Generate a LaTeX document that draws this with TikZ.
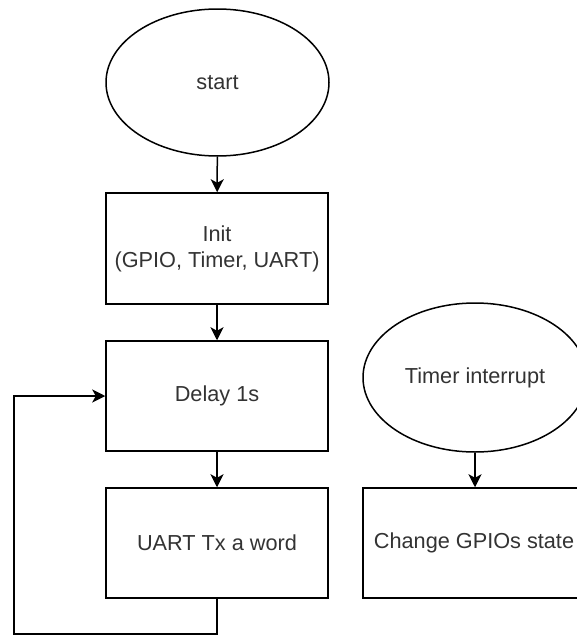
\documentclass[tikz,border=0pt]{standalone}
\usepackage{fontspec}
\setmainfont{Liberation Sans}
\usetikzlibrary{shapes.geometric,arrows.meta}
\definecolor{txt}{RGB}{51,51,51}
\tikzset{
  base/.style={draw=black, line width=1.5pt, text=txt, font=\fontsize{21.7}{26}\selectfont, inner sep=0pt, align=center},
  oval/.style={base, ellipse, minimum width=223pt, minimum height=147pt},
  box/.style={base, rectangle, minimum width=222pt, minimum height=110pt},
  link/.style={line width=1.5pt, -{Stealth[length=13pt,width=13pt,inset=3.5pt]}},
  wire/.style={line width=1.5pt}
}
\begin{document}
\begin{tikzpicture}[x=1pt,y=-1pt]
\useasboundingbox (0,0) rectangle (577,637);
\clip (0,0) rectangle (577,637);
\node[oval] (start) at (217.5,82.5) {start};
\node[box, minimum height=111pt] (init) at (217,248.5) {Init\\(GPIO, Timer, UART)};
\node[box] (delay) at (217,396) {Delay 1s};
\node[box] (uart) at (217,543) {UART Tx a word};
\node[oval, minimum width=224pt, minimum height=149pt] (timer) at (475,377.5) {Timer interrupt};
\node[box] (gpio) at (474,543) {Change GPIOs state};
\coordinate (c1) at (14,634);
\draw[link] (start) -- (init);
\draw[link] (init) -- (delay);
\draw[link] (delay) -- (uart);
\draw[link] (timer.south) -- (timer.south |- gpio.north);
\draw[link] (uart.south) |- (c1) |- (delay.west);
\end{tikzpicture}
\end{document}
